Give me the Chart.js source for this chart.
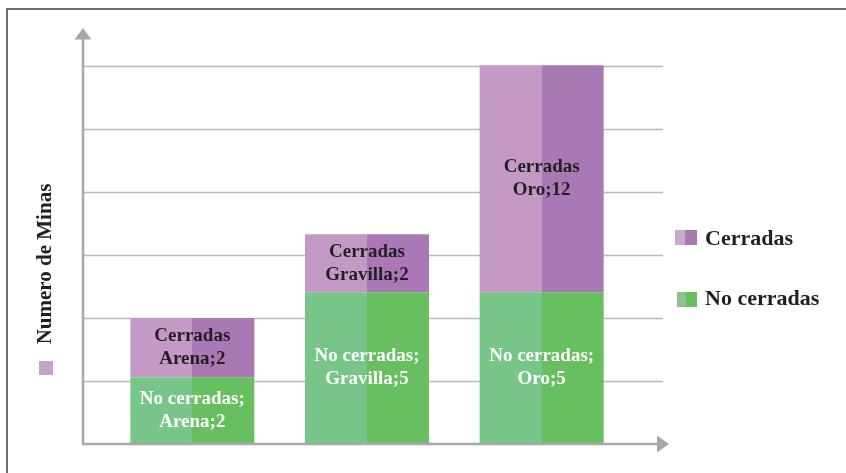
<!DOCTYPE html>
<html>
<head>
<meta charset="utf-8">
<script src="https://cdn.jsdelivr.net/npm/chart.js@4/dist/chart.umd.min.js"></script>
<style>
    body { margin: 0; background: #ffffff; }
    #wrap { width: 846px; height: 473px; position: relative; }
</style>
</head>
<body>
<div id="wrap"><canvas id="minas-chart"></canvas></div>
<script>
// minas chart - stacked bars, closed vs not closed mines

// categories along the bottom
const categories = ['Arena', 'Gravilla', 'Oro'];

// the numbers printed inside the bars
const countNoCerradas = [2, 5, 5];
const countCerradas = [2, 2, 12];

// bar heights as they are drawn in the picture (in gridline units)
const heightNoCerradas = [1.06, 2.41, 2.41];
const heightCerradas = [0.94, 0.92, 3.6];

// gridline values on the y axis (no tick labels shown)
const gridValues = [1, 2, 3, 4, 5, 6];

// colors
const GREEN_LIGHT = '#78c589';
const GREEN_DARK = '#67bf5f';
const PURPLE_LIGHT = '#c499c6';
const PURPLE_DARK = '#a978b5';
const AXIS_GREY = '#a7a9a9';
const GRID_GREY = '#b9b9b9';
const FRAME_GREY = '#6f6f6f';
const TEXT_DARK = '#231f20';

const SERIF = '"Liberation Serif", "Times New Roman", serif';


// makes the two tone fill: light on the left half, dark on the right half
function twoTone(light, dark) {
    return function(context) {
        const chart = context.chart;
        const xScale = chart.scales.x;
        if (!xScale || context.dataIndex === undefined) {
            return dark;
        }
        const center = xScale.getPixelForValue(context.dataIndex);
        // before the layout is done the scale gives no real pixel
        if (!isFinite(center)) {
            return dark;
        }
        const grad = chart.ctx.createLinearGradient(center - 0.5, 0, center + 0.5, 0);
        grad.addColorStop(0, light);
        grad.addColorStop(0.5, light);
        grad.addColorStop(0.5, dark);
        grad.addColorStop(1, dark);
        return grad;
    };
}


// gridlines go wider than the bar area, so draw them here from the y scale
const gridPlugin = {
    id: 'gridPlugin',
    beforeDatasetsDraw(chart) {
        const ctx = chart.ctx;
        const y = chart.scales.y;
        ctx.save();
        ctx.strokeStyle = GRID_GREY;
        ctx.lineWidth = 1.5;
        for (let i = 0; i < gridValues.length; i++) {
            const py = Math.round(y.getPixelForValue(gridValues[i])) + 0.5;
            ctx.beginPath();
            ctx.moveTo(83, py);
            ctx.lineTo(663, py);
            ctx.stroke();
        }
        ctx.restore();
    }
};


// axes with arrow heads, labels in the bars, legend, y title and frame
const decorPlugin = {
    id: 'decorPlugin',
    afterDatasetsDraw(chart) {
        const ctx = chart.ctx;
        const yBase = chart.scales.y.getPixelForValue(0);
        ctx.save();

        // axes
        ctx.strokeStyle = AXIS_GREY;
        ctx.fillStyle = AXIS_GREY;
        ctx.lineWidth = 2.5;
        ctx.beginPath();
        ctx.moveTo(83, yBase);
        ctx.lineTo(83, 38);
        ctx.moveTo(82, yBase);
        ctx.lineTo(658, yBase);
        ctx.stroke();
        // arrow up
        ctx.beginPath();
        ctx.moveTo(83, 28);
        ctx.lineTo(91.5, 39.5);
        ctx.lineTo(74.5, 39.5);
        ctx.closePath();
        ctx.fill();
        // arrow right
        ctx.beginPath();
        ctx.moveTo(669, yBase);
        ctx.lineTo(657, yBase - 8.5);
        ctx.lineTo(657, yBase + 8.5);
        ctx.closePath();
        ctx.fill();

        // labels inside the bars
        ctx.font = 'bold 19px ' + SERIF;
        ctx.textAlign = 'center';
        ctx.textBaseline = 'middle';
        for (let d = 0; d < chart.data.datasets.length; d++) {
            const meta = chart.getDatasetMeta(d);
            const counts = chart.data.datasets[d].counts;
            for (let i = 0; i < meta.data.length; i++) {
                const bar = meta.data[i];
                const mid = (bar.y + bar.base) / 2;
                let line1, line2;
                if (d === 0) {
                    ctx.fillStyle = '#ffffff';
                    line1 = 'No cerradas;';
                } else {
                    ctx.fillStyle = TEXT_DARK;
                    line1 = 'Cerradas';
                }
                line2 = categories[i] + ';' + counts[i];
                ctx.fillText(line1, bar.x, mid - 11.5);
                ctx.fillText(line2, bar.x, mid + 11.5);
            }
        }

        // legend on the right (Cerradas on top)
        ctx.textAlign = 'left';
        ctx.textBaseline = 'alphabetic';
        ctx.font = 'bold 22px ' + SERIF;
        ctx.fillStyle = '#c9a9d1';
        ctx.fillRect(675, 230, 10, 15);
        ctx.fillStyle = PURPLE_DARK;
        ctx.fillRect(685, 230, 12, 15);
        ctx.fillStyle = TEXT_DARK;
        ctx.fillText(chart.data.datasets[1].label, 705, 245);

        ctx.fillStyle = '#90bf93';
        ctx.fillRect(677, 292, 9, 15);
        ctx.fillStyle = GREEN_DARK;
        ctx.fillRect(686, 292, 11, 15);
        ctx.fillStyle = TEXT_DARK;
        ctx.fillText(chart.data.datasets[0].label, 705, 305);

        // y axis title with its little square
        ctx.save();
        ctx.translate(46, 264);
        ctx.rotate(-Math.PI / 2);
        ctx.textAlign = 'center';
        ctx.textBaseline = 'middle';
        ctx.font = 'bold 21px ' + SERIF;
        ctx.fillStyle = TEXT_DARK;
        ctx.fillText('Numero de Minas', 0, 0);
        ctx.restore();
        ctx.fillStyle = '#c4a4cd';
        ctx.fillRect(39, 361, 14, 14);

        // frame, only top and left edge show
        ctx.strokeStyle = FRAME_GREY;
        ctx.lineWidth = 2;
        ctx.beginPath();
        ctx.moveTo(846, 9);
        ctx.lineTo(7, 9);
        ctx.lineTo(7, 473);
        ctx.stroke();

        ctx.restore();
    }
};


function drawChart() {
    const ctx = document.getElementById('minas-chart').getContext('2d');

    new Chart(ctx, {
        type: 'bar',
        data: {
            labels: categories,
            datasets: [
                {
                    label: 'No cerradas',
                    data: heightNoCerradas,
                    counts: countNoCerradas,
                    backgroundColor: twoTone(GREEN_LIGHT, GREEN_DARK),
                    borderWidth: 0,
                    barPercentage: 0.71,
                    categoryPercentage: 1,
                    clip: false
                },
                {
                    label: 'Cerradas',
                    data: heightCerradas,
                    counts: countCerradas,
                    backgroundColor: twoTone(PURPLE_LIGHT, PURPLE_DARK),
                    borderWidth: 0,
                    barPercentage: 0.71,
                    categoryPercentage: 1,
                    clip: false
                }
            ]
        },
        options: {
            responsive: true,
            maintainAspectRatio: false,
            animation: false,
            layout: {
                padding: { left: 105, right: 217, top: 66, bottom: 29 }
            },
            scales: {
                x: { stacked: true, display: false },
                y: { stacked: true, display: false, min: 0, max: 6 }
            },
            plugins: {
                legend: { display: false },
                tooltip: { enabled: false }
            }
        },
        plugins: [gridPlugin, decorPlugin]
    });
}

drawChart();
</script>
</body>
</html>
